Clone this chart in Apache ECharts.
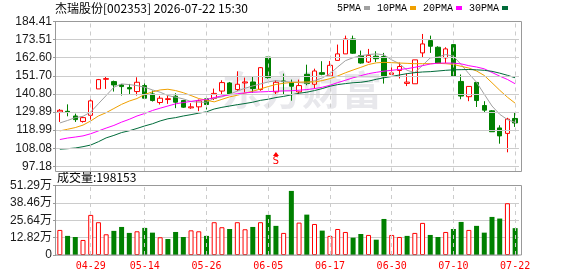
<!DOCTYPE html>
<html><head><meta charset="utf-8">
<script src="https://cdn.jsdelivr.net/npm/echarts@6/dist/echarts.min.js"></script>
<style>html,body{margin:0;padding:0;background:#fff}#c{width:578px;height:276px}</style>
</head><body><div id="c"></div>
<script>
const titleText = '杰瑞股份[002353] 2026-07-22 15:30';
const volTitle = '成交量';
const dates = ['04-23','04-24','04-27','04-28','04-29','04-30','05-07','05-08','05-11','05-12',
  '05-13','05-14','05-15','05-18','05-19','05-20','05-21','05-22','05-25','05-26',
  '05-27','05-28','05-29','06-01','06-02','06-03','06-04','06-05','06-08','06-09',
  '06-10','06-11','06-12','06-15','06-16','06-17','06-18','06-22','06-23','06-24',
  '06-25','06-26','06-29','06-30','07-01','07-02','07-03','07-06','07-07','07-08',
  '07-09','07-10','07-13','07-14','07-15','07-16','07-17','07-20','07-21','07-22'];
const labelDates = ['04-29','05-14','05-26','06-05','06-17','06-30','07-10','07-22'];
const opens = [129.9,130.3,127.5,124.2,127.9,143.8,149.6,148.2,146.2,144.6,
  142.2,145.8,140.8,135.6,137.4,139.4,136.8,132.4,133.0,137.8,
  138.1,142.5,147.4,143.4,147.4,148.0,143.4,163.0,142.0,148.6,
  147.6,142.0,152.6,146.6,153.6,151.6,161.0,164.9,173.9,163.9,
  160.0,163.5,163.3,152.6,154.9,147.1,146.9,165.5,172.9,168.9,
  162.5,170.5,148.3,139.1,147.7,133.8,130.6,120.3,117.0,126.0];
const closes = [130.9,129.7,125.3,126.5,136.6,149.4,150.0,146.2,145.2,143.8,
  147.8,138.2,136.8,138.2,137.9,135.8,132.8,133.0,136.6,134.4,
  141.1,147.6,140.7,146.6,148.0,144.0,156.6,150.6,147.8,148.2,
  145.4,145.8,147.0,154.6,152.6,158.0,164.9,173.9,165.3,159.4,
  164.0,162.0,151.0,153.4,157.3,147.9,161.3,170.9,169.5,159.3,
  167.9,151.5,139.5,145.3,136.8,131.0,118.0,115.5,125.6,123.3];
const lows = [123.9,127.3,123.9,123.5,124.5,143.8,143.8,142.2,139.8,140.4,
  139.8,137.8,136.2,134.4,134.8,132.2,132.4,131.8,130.4,131.4,
  137.1,140.7,140.1,142.5,141.7,141.5,142.7,150.0,140.1,140.7,
  136.7,140.1,146.0,144.0,152.0,151.0,161.0,164.9,164.9,159.0,
  159.4,160.0,147.0,152.4,150.1,145.5,146.9,162.5,165.5,158.9,
  159.3,151.5,137.6,136.4,132.9,129.4,118.0,110.8,105.6,120.9];
const highs = [131.7,134.5,128.9,127.3,139.2,149.8,151.2,148.8,146.8,146.8,
  150.8,148.2,142.8,139.6,139.8,141.2,137.2,135.2,137.4,138.8,
  144.0,149.0,148.0,154.4,150.6,151.0,157.0,163.0,149.0,153.0,
  149.4,149.4,158.4,156.0,160.5,160.6,170.5,175.9,175.9,166.9,
  167.9,166.5,165.5,157.6,159.7,153.0,161.3,176.9,175.9,169.5,
  168.9,170.5,152.5,145.3,147.7,136.4,131.0,121.9,126.4,129.6];
const ma5 = [123.3,124.8,126.5,127.3,129.9,134.9,139.8,144.8,146.8,146.4,
  145.8,144.8,143.2,141.8,139.8,138.8,137.8,136.2,135.8,135.8,
  138.2,139.0,140.6,142.5,144.2,145.6,146.8,148.0,148.8,148.3,
  147.9,147.6,147.3,148.8,150.4,153.0,157.0,160.8,162.6,163.8,
  164.5,164.9,164.3,161.3,159.0,155.0,153.6,158.0,162.5,163.0,
  164.5,163.5,158.5,153.0,147.8,140.6,133.5,128.5,125.3,123.6];
const ma10 = [118.5,119.5,120.5,122.0,124.5,127.5,129.5,132.0,134.5,136.5,
  138.0,140.5,142.0,143.2,143.6,142.8,141.5,139.8,138.0,137.0,
  136.0,137.5,139.0,140.0,141.3,142.4,143.8,145.2,146.5,147.2,
  147.7,147.9,148.0,148.0,148.8,150.0,151.6,153.5,155.2,156.8,
  158.5,159.5,159.8,159.6,159.4,159.2,159.0,159.0,159.0,159.2,
  159.0,158.6,157.4,156.4,154.6,151.9,147.5,143.0,138.8,135.2];
const ma20 = [113.3,114.2,114.8,115.5,116.8,118.5,120.2,121.8,123.8,125.5,
  127.5,129.0,130.8,132.2,133.5,134.8,135.6,136.3,137.0,137.4,
  138.6,139.6,140.2,140.9,141.4,141.8,142.0,142.2,142.4,142.6,
  142.7,143.0,143.4,144.0,144.8,146.0,147.6,149.0,150.5,151.8,
  153.0,153.8,154.5,155.0,155.5,156.0,156.8,157.8,158.8,159.3,
  159.4,159.3,158.9,157.8,157.0,155.9,153.7,151.5,149.5,146.9];
const ma30 = [107.5,107.8,108.2,109.0,110.0,112.0,114.3,115.8,117.5,118.6,
  120.0,121.5,122.8,124.5,125.8,126.5,127.5,128.3,129.2,130.0,
  131.7,132.7,133.5,134.3,135.0,135.8,136.9,137.6,138.6,139.3,
  140.2,141.2,141.8,142.8,144.0,145.4,146.4,147.0,147.5,147.8,
  148.5,149.6,150.5,151.3,152.2,153.0,153.6,154.0,154.2,154.6,
  155.0,155.3,155.4,155.5,155.3,155.0,154.4,153.3,152.0,150.5];
const volumes = [185000,141000,133000,111000,296000,242000,153000,178000,207000,163000,
  175000,200000,165000,131000,118000,170000,133000,182000,175000,141000,
  242000,205000,192000,242000,190000,207000,242000,296000,215000,163000,
  473000,239000,298000,229000,180000,141000,192000,170000,128000,155000,
  148000,113000,266000,148000,133000,141000,163000,237000,148000,133000,
  170000,192000,244000,185000,215000,165000,281000,269000,382000,198153];
const volUp = [1,0,0,1,1,1,1,0,0,0, 1,0,0,1,0,0,0,1,1,0, 1,1,0,1,1,0,1,0,0,1,
  0,1,0,1,0,1,1,1,0,0, 1,0,0,1,1,0,1,1,0,0, 1,0,0,1,0,0,0,0,1,0];
const priceTicks = [97.18,108.08,118.99,129.89,140.80,151.70,162.60,173.51,184.41];
const volMax = 512930;
const signalDate = '06-08', signalPrice = 104.6, signalText = 'S';
const legendNames = ['5PMA','10PMA','20PMA','30PMA'];

const RED = '#ff0000', GREEN = '#008000', GRID = '#cccccc', FRAME = '#999999';
const maColors = ['#a0a0a0','#f0a000','#ff00ff','#006b3a'];
const maData = [ma5, ma10, ma20, ma30];

const chart = echarts.init(document.getElementById('c'), null, {renderer: 'canvas'});
const candleData = dates.map((d, i) => [opens[i], closes[i], lows[i], highs[i]]);
const volData = volumes.map((v, i) => ({
  value: v,
  itemStyle: volUp[i] ? {color: '#ffffff', borderColor: RED, borderWidth: 1}
                      : {color: GREEN, borderColor: GREEN, borderWidth: 0}
}));
const blank = dates.map(() => '-');
const vLines = labelDates.map(d => ({xAxis: d}));

const option = {
  animation: false,
  backgroundColor: '#ffffff',
  title: [
    {text: titleText, left: 55, top: 2, padding: 0,
     textStyle: {fontSize: 12, fontWeight: 'normal', color: '#000', fontFamily: 'Noto Sans CJK SC'}},
    {text: volTitle + ':' + volumes[volumes.length - 1], left: 57, top: 171, padding: 0,
     textStyle: {fontSize: 12, fontWeight: 'normal', color: '#000', fontFamily: 'Noto Sans CJK SC'}}
  ],
  legend: {
    data: legendNames.map((n, i) => ({name: n, icon: 'rect', itemStyle: {color: maColors[i]}})),
    left: 337, top: 3, align: 'right', itemWidth: 6, itemHeight: 4, itemGap: 7, padding: 0,
    textStyle: {fontSize: 10, color: '#000', fontFamily: 'Liberation Mono', padding: [0, -2, 0, 0]}
  },
  graphic: [
    {type: 'text', left: 222, top: 70, z: -10, silent: true,
     style: {text: '东方财富', fontSize: 40, fontWeight: 'bold', fontFamily: 'Noto Sans CJK SC',
             fill: 'rgba(190,190,200,0.35)'}},
    {type: 'rect', shape: {x: 55.5, y: 21.5, width: 466, height: 150}, z: 100, silent: true,
     style: {fill: null, stroke: FRAME, lineWidth: 1}},
    {type: 'rect', shape: {x: 55.5, y: 185.5, width: 466, height: 69.5}, z: 100, silent: true,
     style: {fill: null, stroke: FRAME, lineWidth: 1}}
  ],
  grid: [
    {left: 56, width: 463, top: 21.5, height: 150, show: false},
    {left: 56, width: 463, top: 185.5, height: 69.5, show: false}
  ],
  xAxis: [
    {type: 'category', gridIndex: 0, data: dates, boundaryGap: true,
     axisLine: {show: false}, axisTick: {show: false}, axisLabel: {show: false}, splitLine: {show: false}},
    {type: 'category', gridIndex: 1, data: dates, boundaryGap: true,
     axisLine: {show: false}, axisTick: {show: false}, splitLine: {show: false},
     axisLabel: {interval: (idx, val) => labelDates.includes(val), color: RED, fontSize: 10,
                 fontFamily: 'DejaVu Sans Mono', margin: 6}}
  ],
  yAxis: [
    {type: 'value', gridIndex: 0, min: 94.05, max: 184.41, scale: true,
     axisLine: {show: false}, splitLine: {show: false},
     axisTick: {show: true, length: 3, lineStyle: {color: FRAME}, customValues: priceTicks},
     axisLabel: {customValues: priceTicks, formatter: v => v.toFixed(2), color: '#1a1a1a',
                 fontSize: 12, fontFamily: 'Liberation Sans', margin: 4}},
    {type: 'value', gridIndex: 1, min: 0, max: volMax, interval: volMax / 4,
     axisLine: {show: false},
     splitLine: {show: true, lineStyle: {color: GRID, width: 1}},
     axisTick: {show: true, length: 3, lineStyle: {color: FRAME}},
     axisLabel: {formatter: v => v === 0 ? '0' : (Math.floor(v / 100) / 100).toFixed(2) + '万',
                 color: '#1a1a1a', fontSize: 12, fontFamily: 'Liberation Sans, Noto Sans CJK SC', margin: 4}}
  ],
  series: [
    {type: 'line', name: 'grid0', xAxisIndex: 0, yAxisIndex: 0, data: blank, z: 1, silent: true,
     showSymbol: false, lineStyle: {opacity: 0},
     markLine: {silent: true, symbol: ['none', 'none'], label: {show: false}, animation: false,
       lineStyle: {color: GRID, width: 1, type: 'solid'},
       data: priceTicks.slice(0, -1).map(v => ({yAxis: v}))
         .concat(vLines.map(l => Object.assign({lineStyle: {type: [4, 4], color: GRID}}, l)))}},
    {type: 'line', name: 'grid1', xAxisIndex: 1, yAxisIndex: 1, data: blank, z: 1, silent: true,
     showSymbol: false, lineStyle: {opacity: 0},
     markLine: {silent: true, symbol: ['none', 'none'], label: {show: false}, animation: false,
       lineStyle: {color: GRID, width: 1, type: [4, 4]}, data: vLines}},
    {type: 'candlestick', name: 'K', xAxisIndex: 0, yAxisIndex: 0, data: candleData, z: 3,
     barWidth: 5,
     itemStyle: {color: '#ffffff', color0: GREEN, borderColor: RED, borderColor0: GREEN, borderWidth: 1},
     markPoint: {silent: true, symbol: 'triangle', symbolSize: [6, 4], itemStyle: {color: RED},
       label: {show: true, position: 'bottom', distance: 0, formatter: signalText, color: RED,
               fontSize: 11, fontFamily: 'DejaVu Sans Mono'},
       data: [{coord: [signalDate, signalPrice]}]}},
    ...legendNames.map((n, i) => ({
      type: 'line', name: n, xAxisIndex: 0, yAxisIndex: 0, data: maData[i], z: 4,
      showSymbol: false, symbol: 'none', smooth: false,
      lineStyle: {color: maColors[i], width: 1}, itemStyle: {color: maColors[i]}
    })),
    {type: 'bar', name: 'VOL', xAxisIndex: 1, yAxisIndex: 1, data: volData, barWidth: 5, z: 3}
  ]
};
chart.setOption(option);
</script>
</body></html>
